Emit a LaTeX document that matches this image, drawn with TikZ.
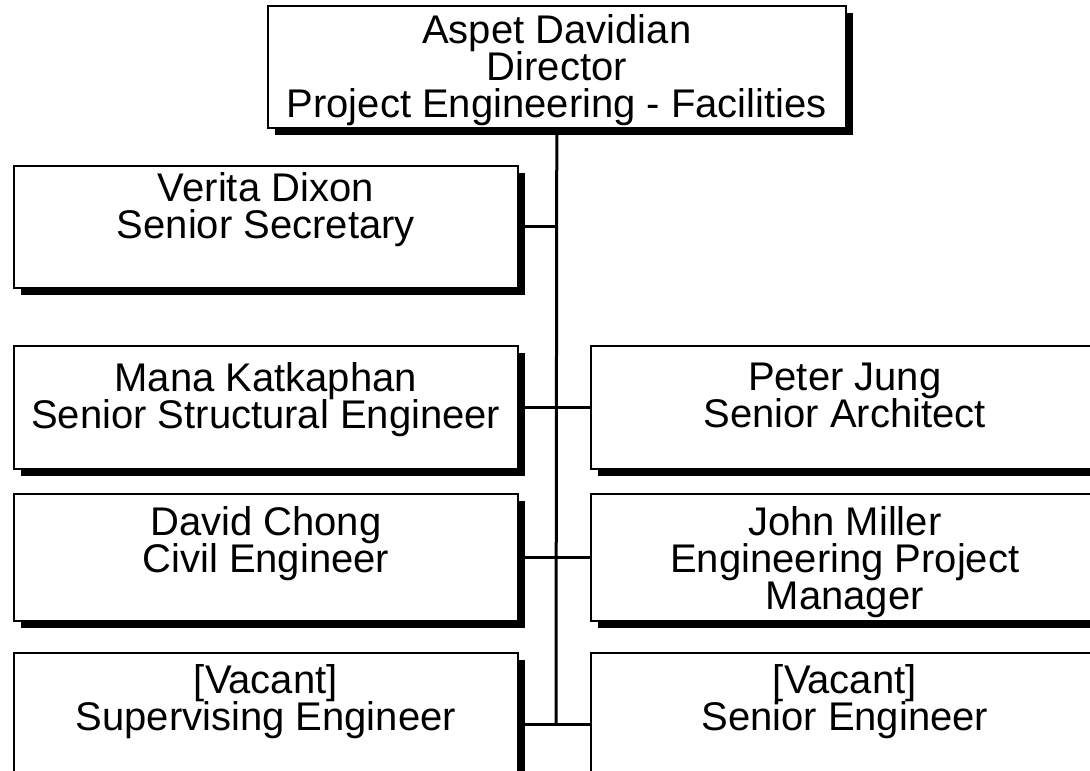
\documentclass[tikz,border=0pt]{standalone}
\usepackage{fontspec}
\setmainfont{Liberation Sans}
\usetikzlibrary{shadows}
\newcommand{\orgtext}[4]{\parbox[t][#2][t]{#1}{\lineskiplimit=-\maxdimen\vspace*{#3}\centering #4\par}}
\begin{document}
\begin{tikzpicture}[x=1pt,y=-1pt,
  every node/.style={font=\fontsize{40}{37}\selectfont},
  orgbox/.style={draw, line width=1.6pt, fill=white, inner sep=0pt, anchor=north west,
    drop shadow={shadow xshift=7pt, shadow yshift=-7pt, fill=black, opacity=1}},
  link/.style={line width=3pt}]
\useasboundingbox (0,0) rectangle (1090,771);
\fill[white] (0,0) rectangle (1090,771);
\clip (0,0) rectangle (1090,771);

\node[orgbox] (top) at (267,5) {\orgtext{578pt}{122pt}{9pt}{\strut Aspet Davidian\\\strut Director\\\strut Project Engineering - Facilities}};
\node[orgbox] (verita) at (13,165) {\orgtext{504pt}{122pt}{7pt}{\strut Verita Dixon\\\strut Senior Secretary}};
\node[orgbox] (mana) at (13,345) {\orgtext{504pt}{123pt}{17pt}{\strut Mana Katkaphan\\\strut Senior Structural Engineer}};
\node[orgbox] (peter) at (590,345) {\orgtext{508pt}{123pt}{17pt}{\strut Peter Jung\\\strut Senior Architect}};
\node[orgbox] (david) at (13,493) {\orgtext{504pt}{127pt}{13pt}{\strut David Chong\\\strut Civil Engineer}};
\node[orgbox] (john) at (590,493) {\orgtext{508pt}{127pt}{13pt}{\strut John Miller\\\strut Engineering Project\\\strut Manager}};
\node[orgbox] (vacl) at (13,652) {\orgtext{504pt}{144pt}{12pt}{\strut [Vacant]\\\strut Supervising Engineer}};
\node[orgbox] (vacr) at (590,652) {\orgtext{508pt}{144pt}{12pt}{\strut [Vacant]\\\strut Senior Engineer}};

\coordinate (tend) at (556,724);
\draw[link] (top.south) -- (tend);
\draw[link] (verita.east) -- (verita.east -| top.south);
\draw[link] (mana.east) -- (peter.west);
\draw[link] (david.east) -- (john.west);
\draw[link] (vacl.east) -- (vacr.west);
\end{tikzpicture}
\end{document}
